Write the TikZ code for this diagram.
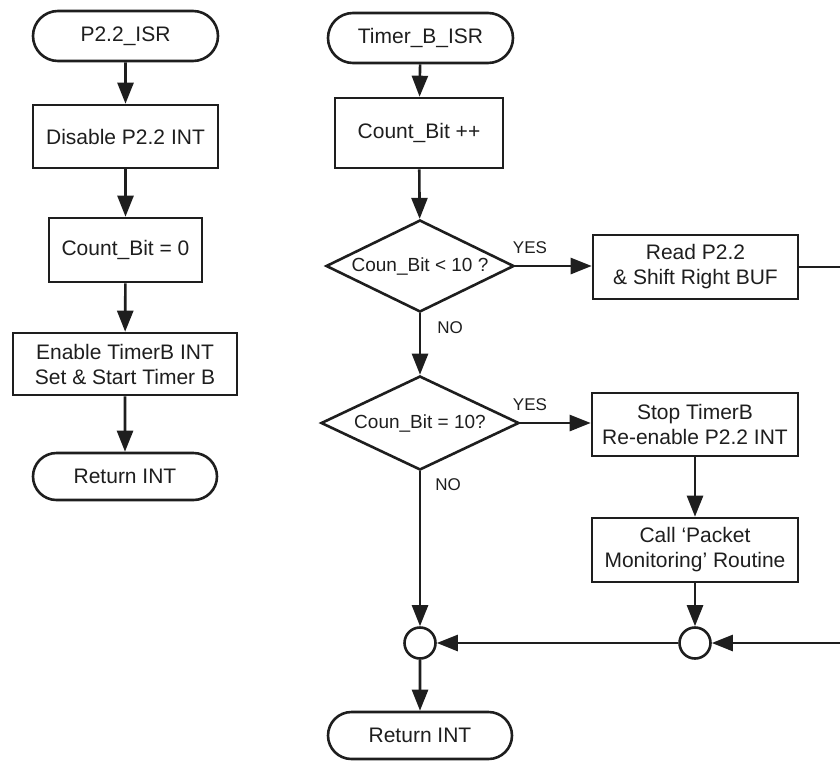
\documentclass[tikz,border=0pt]{standalone}
\usepackage{fontspec}
\setmainfont{Liberation Sans}
\usetikzlibrary{arrows.meta,shapes.geometric,shapes.misc}

\definecolor{ink}{HTML}{1E1E1E}

\tikzset{
  base/.style={draw=ink, line width=2.6pt, text=ink, inner sep=0pt,
    font=\fontsize{21}{25}\selectfont, align=center},
  term/.style={base, shape=rounded rectangle, minimum width=185pt, minimum height=50pt},
  proc/.style={base, rectangle},
  decide/.style={base, shape=diamond, aspect=2, font=\fontsize{19}{23}\selectfont},
  junction/.style={draw=ink, line width=2.6pt, circle, minimum size=31pt, inner sep=0pt},
  flow/.style={draw=ink, line width=2.6pt, -{Triangle[length=21pt,width=16pt]}},
  plain/.style={draw=ink, line width=2.6pt},
  tag/.style={text=ink, font=\fontsize{17}{20}\selectfont, inner sep=0pt}
}

\begin{document}
\begin{tikzpicture}[x=1pt,y=-1pt]
  \useasboundingbox (0,0) rectangle (840,761);
  \clip (0,0) rectangle (840,761);

  % P2.2 interrupt service routine
  \node[term] (p22) at (125.5,36) {P2.2\_ISR};
  \node[proc, minimum width=185pt, minimum height=63pt] (dis) at (125.5,136.5) {Disable P2.2 INT};
  \node[proc, minimum width=153pt, minimum height=64pt] (cnt0) at (125.5,250) {Count\_Bit = 0};
  \node[proc, minimum width=224pt, minimum height=62pt] (ena) at (125,364) {Enable TimerB INT\\Set \& Start Timer B};
  \node[term, minimum width=184pt, minimum height=47pt] (ret1) at (125,476.5) {Return INT};

  \draw[flow] (p22) -- (dis);
  \draw[flow] (dis) -- (cnt0);
  \draw[flow] (cnt0) -- (ena);
  \draw[flow] (ena) -- (ret1);

  % Timer B interrupt service routine
  \node[term] (tb) at (420.5,38) {Timer\_B\_ISR};
  \node[proc, minimum width=168pt, minimum height=70pt] (cpp) at (419,133) {Count\_Bit ++};
  \node[decide, minimum width=188pt, minimum height=92pt] (d1) at (420,266) {Coun\_Bit < 10 ?};
  \node[proc, minimum width=205pt, minimum height=64pt] (rd) at (695.5,267) {Read P2.2\\\& Shift Right BUF};
  \node[decide, minimum width=198pt, minimum height=94pt] (d2) at (420,423) {Coun\_Bit = 10?};
  \node[proc, minimum width=206pt, minimum height=63pt] (stop) at (695,424.5) {Stop TimerB\\Re-enable P2.2 INT};
  \node[proc, minimum width=206pt, minimum height=64pt] (call) at (695,550) {Call `Packet\\Monitoring' Routine};
  \node[junction] (c2) at (695,643) {};
  \node[junction] (c1) at (420,643) {};
  \node[term, minimum width=184pt, minimum height=47pt] (ret2) at (420,735.5) {Return INT};

  \draw[flow] (tb) -- (cpp);
  \draw[flow] (cpp) -- (d1);
  \draw[flow] (d1.east) -- (rd.west |- d1.east);
  \draw[flow] (d1.south) -- (d2.north);
  \draw[flow] (d2.east) -- (stop.west |- d2.east);
  \draw[flow] (d2.south) -- (c1.north);
  \draw[flow] (stop) -- (call);
  \draw[flow] (call) -- (c2);
  \draw[flow] (rd.east) -- ++(70,0) |- (c2.east);
  \draw[flow] (c2.west) -- (c1.east);
  \draw[flow] (c1) -- (ret2);

  \node[tag] (yes1) at (530,248) {YES};
  \node[tag] (no1) at (450,328) {NO};
  \node[tag] (yes2) at (530,405) {YES};
  \node[tag] (no2) at (448,485) {NO};
\end{tikzpicture}
\end{document}
